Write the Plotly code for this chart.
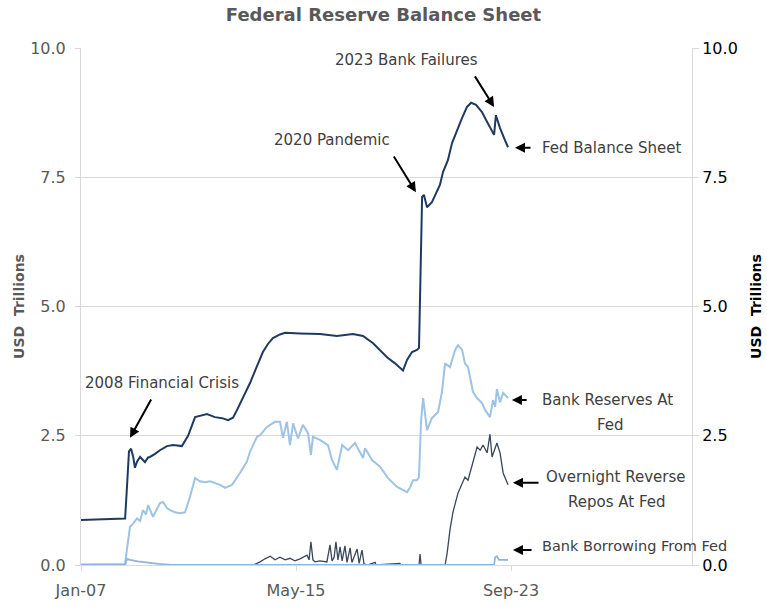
import plotly.graph_objects as go

# ---- Data (decimal years, USD trillions) ----
bs_t = [2007.0, 2007.74, 2008.71, 2008.78, 2008.86, 2008.94, 2009.02, 2009.09, 2009.17, 2009.29,
        2009.40, 2009.48, 2009.60, 2009.67, 2009.87, 2010.06, 2010.33, 2010.57, 2010.91, 2011.15,
        2011.42, 2011.61, 2011.88, 2012.19, 2012.47, 2012.70, 2012.89, 2013.05, 2013.29, 2013.55,
        2013.78, 2014.05, 2014.25, 2014.44, 2014.71, 2014.91, 2015.49, 2016.26, 2016.92, 2017.54,
        2017.93, 2018.12, 2018.32, 2018.86, 2019.17, 2019.48, 2019.64, 2019.83, 2020.02, 2020.10,
        2020.18, 2020.22, 2020.29, 2020.41, 2020.60, 2020.80, 2020.91, 2021.03, 2021.22, 2021.38,
        2021.57, 2021.77, 2021.96, 2022.12, 2022.31, 2022.54, 2022.74, 2022.85, 2023.01, 2023.08,
        2023.24, 2023.43, 2023.55]
bs_v = [0.87, 0.88, 0.90, 1.50, 2.20, 2.25, 2.10, 1.88, 2.00, 2.09,
        2.02, 1.99, 2.08, 2.09, 2.15, 2.22, 2.30, 2.32, 2.30, 2.50,
        2.86, 2.88, 2.92, 2.86, 2.84, 2.80, 2.85, 3.00, 3.25, 3.52,
        3.80, 4.12, 4.28, 4.39, 4.46, 4.49, 4.48, 4.47, 4.43, 4.47,
        4.43, 4.37, 4.29, 4.02, 3.90, 3.76, 3.97, 4.12, 4.16, 4.20,
        6.00, 7.12, 7.16, 6.92, 7.02, 7.25, 7.35, 7.60, 7.83, 8.16,
        8.41, 8.65, 8.86, 8.94, 8.90, 8.76, 8.57, 8.47, 8.32, 8.70,
        8.45, 8.22, 8.08]

res_t = [2007.0, 2008.71, 2008.78, 2008.90, 2009.02, 2009.17, 2009.29, 2009.40, 2009.52, 2009.60,
         2009.79, 2009.95, 2010.06, 2010.18, 2010.33, 2010.45, 2010.64, 2010.84, 2011.03, 2011.22,
         2011.42, 2011.61, 2011.81, 2012.00, 2012.19, 2012.39, 2012.58, 2012.85, 2013.16, 2013.43,
         2013.55, 2013.82, 2013.94, 2014.21, 2014.33, 2014.52, 2014.71, 2014.83, 2014.98, 2015.10,
         2015.22, 2015.41, 2015.60, 2015.80, 2015.91, 2015.99, 2016.26, 2016.57, 2016.73, 2016.92,
         2017.12, 2017.35, 2017.62, 2017.93, 2018.01, 2018.28, 2018.59, 2018.90, 2019.25, 2019.48,
         2019.64, 2019.75, 2019.87, 2020.02, 2020.10, 2020.18, 2020.26, 2020.41, 2020.60, 2020.84,
         2020.99, 2021.11, 2021.30, 2021.50, 2021.61, 2021.77, 2021.88, 2022.00, 2022.19, 2022.35,
         2022.54, 2022.66, 2022.85, 2022.97, 2023.05, 2023.12, 2023.24, 2023.36, 2023.55]
res_v = [0.01, 0.02, 0.30, 0.74, 0.80, 0.90, 0.85, 1.06, 0.98, 1.16,
         0.93, 1.10, 1.20, 1.22, 1.10, 1.06, 1.02, 1.00, 1.02, 1.31,
         1.68, 1.62, 1.60, 1.62, 1.59, 1.55, 1.49, 1.55, 1.78, 2.00,
         2.19, 2.48, 2.51, 2.67, 2.71, 2.77, 2.77, 2.46, 2.77, 2.32,
         2.74, 2.45, 2.71, 2.55, 2.13, 2.48, 2.42, 2.32, 2.03, 1.84,
         2.32, 2.22, 2.36, 2.07, 2.26, 2.03, 1.90, 1.68, 1.51, 1.45,
         1.41, 1.50, 1.64, 1.64, 1.70, 2.80, 3.23, 2.61, 2.84, 2.96,
         3.35, 3.90, 3.83, 4.16, 4.25, 4.16, 3.90, 3.83, 3.35, 3.23,
         3.13, 3.00, 2.86, 3.19, 3.06, 3.40, 3.15, 3.33, 3.23]

rrp_t = [2013.67, 2013.94, 2014.13, 2014.33, 2014.52, 2014.71, 2014.91, 2015.10, 2015.29, 2015.49,
         2015.76, 2015.84, 2015.91, 2015.99, 2016.07, 2016.26, 2016.53, 2016.65, 2016.73, 2016.81,
         2016.88, 2016.96, 2017.04, 2017.12, 2017.23, 2017.31, 2017.43, 2017.50, 2017.70, 2017.78,
         2017.89, 2017.97, 2018.09, 2018.40, 2018.43, 2019.36, 2019.40, 2020.10, 2020.14, 2020.18,
         2021.11, 2021.19, 2021.30, 2021.42, 2021.61, 2021.77, 2021.88, 2022.00, 2022.19, 2022.35,
         2022.47, 2022.58, 2022.74, 2022.85, 2022.93, 2023.12, 2023.24, 2023.36, 2023.55]
rrp_v = [0.00, 0.06, 0.12, 0.17, 0.10, 0.15, 0.10, 0.13, 0.08, 0.12,
         0.19, 0.10, 0.45, 0.10, 0.06, 0.08, 0.06, 0.39, 0.08, 0.15,
         0.45, 0.10, 0.35, 0.08, 0.37, 0.05, 0.33, 0.05, 0.31, 0.03,
         0.29, 0.02, 0.00, 0.05, 0.00, 0.03, 0.00, 0.00, 0.21, 0.00,
         0.00, 0.23, 0.68, 1.03, 1.39, 1.59, 1.70, 1.64, 1.97, 2.28,
         2.22, 2.32, 2.17, 2.53, 2.09, 2.36, 2.17, 1.78, 1.55]

bor_t = [2007.0, 2008.71, 2008.78, 2008.90, 2009.20, 2009.60, 2010.00, 2010.50, 2023.01, 2023.05,
         2023.12, 2023.20, 2023.55]
bor_v = [0.00, 0.00, 0.12, 0.10, 0.07, 0.04, 0.02, 0.00, 0.00, 0.15,
         0.17, 0.10, 0.10]

x_tickvals = [2007.0, 2015.333, 2023.667]
x_ticktext = ["Jan-07", "May-15", "Sep-23"]
y_tickvals = [0, 2.5, 5, 7.5, 10]

FONT = "DejaVu Sans"
GRAY = "#595959"
TXT = "#404040"

fig = go.Figure()
fig.add_trace(go.Scatter(x=res_t, y=res_v, mode="lines", line=dict(color="#9DC3E6", width=2)))
fig.add_trace(go.Scatter(x=rrp_t, y=rrp_v, mode="lines", line=dict(color="#3A4659", width=1.3)))
fig.add_trace(go.Scatter(x=bs_t, y=bs_v, mode="lines", line=dict(color="#1F3A60", width=2)))
fig.add_trace(go.Scatter(x=bor_t, y=bor_v, mode="lines", line=dict(color="#8FB4E0", width=1.8), yaxis="y2"))

annots = []
def label(x, y, text, xanchor="center", size=15):
    annots.append(dict(x=x, y=y, xref="x", yref="y", text=text, showarrow=False,
                       xanchor=xanchor, yanchor="middle",
                       font=dict(family=FONT, size=size, color=TXT)))

def arrow(hx, hy, tx, ty):
    annots.append(dict(x=hx, y=hy, ax=tx, ay=ty, xref="x", yref="y", axref="x", ayref="y",
                       text="", showarrow=True, arrowhead=2, arrowsize=1, arrowwidth=2,
                       arrowcolor="black"))

label(2019.6, 9.77, "2023 Bank Failures")
arrow(2023.01, 8.86, 2022.23, 9.48)
label(2016.73, 8.22, "2020 Pandemic")
arrow(2019.98, 7.21, 2019.09, 7.93)
label(2010.14, 3.52, "2008 Financial Crisis")
arrow(2008.9, 2.46, 2009.75, 3.23)
label(2024.78, 8.07, "Fed Balance Sheet", xanchor="left")
arrow(2023.82, 8.07, 2024.48, 8.07)
label(2027.4, 3.19, "Bank Reserves At")
label(2027.52, 2.71, "Fed")
arrow(2023.70, 3.19, 2024.33, 3.19)
label(2027.7, 1.70, "Overnight Reverse")
label(2027.74, 1.22, "Repos At Fed")
arrow(2023.74, 1.59, 2024.79, 1.59)
label(2024.80, 0.36, "Bank Borrowing From Fed", xanchor="left", size=14.5)
arrow(2023.74, 0.29, 2024.52, 0.29)

fig.update_layout(
    width=767, height=615,
    margin=dict(l=81, r=75, t=48, b=50),
    plot_bgcolor="white", paper_bgcolor="white",
    showlegend=False,
    title=dict(text="<b>Federal Reserve Balance Sheet</b>", x=0.5, xanchor="center",
               y=1 - 15 / 615, yanchor="middle",
               font=dict(family=FONT, size=18, color=GRAY)),
    font=dict(family=FONT),
    annotations=annots,
    xaxis=dict(range=[2007.0, 2030.68], tickvals=x_tickvals, ticktext=x_ticktext,
               automargin=False, ticklabelstandoff=6,
               showgrid=False, zeroline=False, showline=True, linecolor="#D9D9D9",
               ticks="outside", ticklen=5, tickcolor="#D9D9D9",
               tickfont=dict(family=FONT, size=16, color=GRAY)),
    yaxis=dict(range=[0, 10], tickvals=y_tickvals, tickformat=".1f", automargin=False,
               ticklabelstandoff=6,
               showgrid=True, gridcolor="#D9D9D9", zeroline=False,
               showline=True, linecolor="#D9D9D9", ticks="outside", ticklen=5, tickcolor="#D9D9D9",
               tickfont=dict(family=FONT, size=16, color=GRAY),
               title=dict(text="<b>USD  Trillions</b>", font=dict(family=FONT, size=14, color=GRAY),
                          standoff=2)),
    yaxis2=dict(range=[0, 10], tickvals=y_tickvals, tickformat=".1f", overlaying="y", side="right",
                automargin=False,
                showgrid=False, zeroline=False, showline=True, linecolor="#D9D9D9",
                ticks="outside", ticklen=6, tickcolor="#D9D9D9",
                tickfont=dict(family=FONT, size=16, color="black"),
                title=dict(text="<b>USD  Trillions</b>", font=dict(family=FONT, size=14, color="black"),
                           standoff=14)),
)

fig.write_html("out.html", config={"displayModeBar": False},
               post_script="document.body.style.margin='0';")
